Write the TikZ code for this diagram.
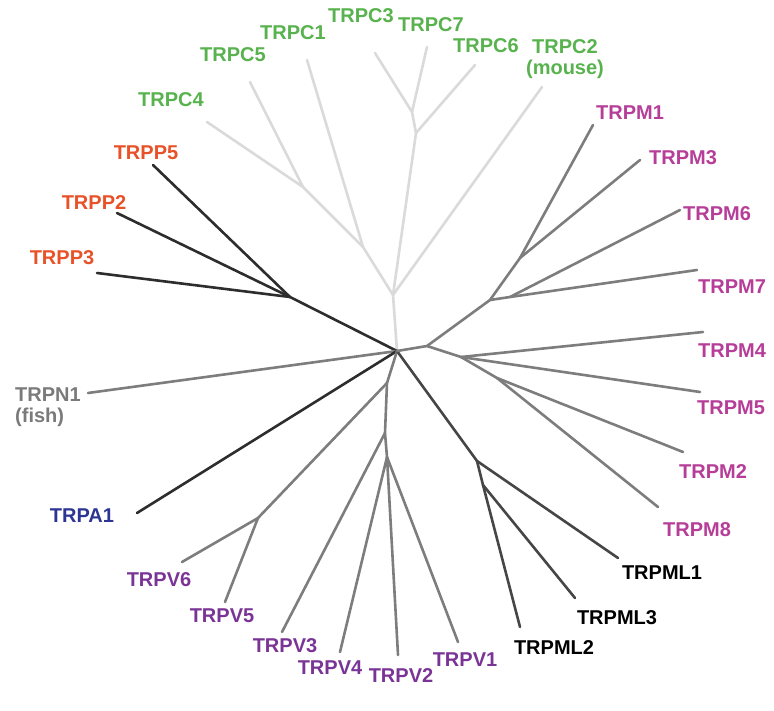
\documentclass[tikz,border=0pt]{standalone}
\usepackage{fontspec}
\setmainfont{Liberation Sans}
\definecolor{cgreen}{RGB}{88,178,78}
\definecolor{cred}{RGB}{232,82,40}
\definecolor{cmag}{RGB}{182,62,152}
\definecolor{cpurp}{RGB}{122,52,150}
\definecolor{cblue}{RGB}{44,54,146}
\definecolor{cgtxt}{RGB}{122,122,122}
\definecolor{llight}{RGB}{218,218,218}
\definecolor{lmed}{RGB}{125,125,125}
\definecolor{ldark}{RGB}{45,45,45}
\definecolor{lml}{RGB}{70,70,70}
\begin{document}
\begin{tikzpicture}[x=1pt,y=-1pt,
  br/.style={line width=2.6pt,line cap=round,line join=round},
  lab/.style={font=\fontsize{20}{21}\selectfont\bfseries,inner sep=0pt,align=center},
  pt/.style={coordinate}]
\useasboundingbox (0,0) rectangle (774,711);
% coordinates (pixel frame)
\coordinate (root) at (397,351);
% TRPC
\coordinate (eC4) at (207,122);
\coordinate (eC5) at (250,82);
\coordinate (eC1) at (307,60);
\coordinate (eC3) at (375,53);
\coordinate (eC7) at (427,47);
\coordinate (eC6) at (475,65);
\coordinate (eC2) at (542,87);
\coordinate (c45) at (303,187);
\coordinate (c145) at (363,247);
\coordinate (c37) at (412,112);
\coordinate (c367) at (416,133);
\coordinate (cR) at (393,295);
% TRPP
\coordinate (eP5) at (153,165);
\coordinate (eP2) at (117,213);
\coordinate (eP3) at (97,273);
\coordinate (pJ) at (290,297);
% TRPN1, TRPA1
\coordinate (eN1) at (88,393);
\coordinate (eA1) at (137,513);
% TRPV
\coordinate (v1) at (387,383);
\coordinate (v56) at (258,518);
\coordinate (eV6) at (182,562);
\coordinate (eV5) at (225,602);
\coordinate (v3) at (385,433);
\coordinate (v124) at (387,457);
\coordinate (eV3) at (282,632);
\coordinate (eV4) at (340,652);
\coordinate (eV2) at (398,655);
\coordinate (eV1) at (458,642);
% TRPML
\coordinate (m1) at (477,461);
\coordinate (m23) at (483,485);
\coordinate (eL1) at (618,558);
\coordinate (eL3) at (575,598);
\coordinate (eL2) at (520,627);
% TRPM
\coordinate (mA) at (427,346);
\coordinate (mD) at (490,300);
\coordinate (mF) at (520,258);
\coordinate (mG) at (510,297);
\coordinate (mB) at (461,357);
\coordinate (mC) at (497,378);
\coordinate (eM1) at (593,125);
\coordinate (eM3) at (640,160);
\coordinate (eM6) at (680,210);
\coordinate (eM7) at (697,270);
\coordinate (eM4) at (703,332);
\coordinate (eM5) at (700,392);
\coordinate (eM2) at (683,452);
\coordinate (eM8) at (658,507);

% branches
\draw[br,llight] (eC4) -- (c45) -- (c145) -- (cR) -- (root);
\draw[br,llight] (eC5) -- (c45);
\draw[br,llight] (eC1) -- (c145);
\draw[br,llight] (eC3) -- (c37) -- (c367) -- (cR);
\draw[br,llight] (eC7) -- (c37);
\draw[br,llight] (eC6) -- (c367);
\draw[br,llight] (eC2) -- (cR);

\draw[br,ldark] (eP5) -- (pJ) -- (root);
\draw[br,ldark] (eP2) -- (pJ);
\draw[br,ldark] (eP3) -- (pJ);

\draw[br,lmed] (eN1) -- (root);
\draw[br,ldark] (eA1) -- (root);

\draw[br,lmed] (root) -- (v1) -- (v3) -- (v124) -- (eV2);
\draw[br,lmed] (v1) -- (v56) -- (eV6);
\draw[br,lmed] (v56) -- (eV5);
\draw[br,lmed] (v3) -- (eV3);
\draw[br,lmed] (v124) -- (eV4);
\draw[br,lmed] (v124) -- (eV1);

\draw[br,lml] (root) -- (m1) -- (eL1);
\draw[br,lml] (m1) -- (m23) -- (eL3);
\draw[br,lml] (m23) -- (eL2);

\draw[br,lmed] (root) -- (mA) -- (mD) -- (mF) -- (eM1);
\draw[br,lmed] (mF) -- (eM3);
\draw[br,lmed] (mD) -- (mG) -- (eM7);
\draw[br,lmed] (mG) -- (eM6);
\draw[br,lmed] (mA) -- (mB) -- (eM4);
\draw[br,lmed] (mB) -- (eM5);
\draw[br,lmed] (mB) -- (mC) -- (eM2);
\draw[br,lmed] (mC) -- (eM8);

% labels
\node[lab,cgreen] (tC4) at (171,100) {TRPC4};
\node[lab,cgreen] (tC5) at (233,55) {TRPC5};
\node[lab,cgreen] (tC1) at (293,33) {TRPC1};
\node[lab,cgreen] (tC3) at (361,16) {TRPC3};
\node[lab,cgreen] (tC7) at (431,25) {TRPC7};
\node[lab,cgreen] (tC6) at (486,46) {TRPC6};
\node[lab,cgreen] (tC2) at (565,59) {TRPC2\\(mouse)};
\node[lab,cred] (tP5) at (146,153) {TRPP5};
\node[lab,cred] (tP2) at (94,203) {TRPP2};
\node[lab,cred] (tP3) at (62,258) {TRPP3};
\node[lab,cgtxt,align=left,anchor=west] (tN1) at (15,407) {TRPN1\\(fish)};
\node[lab,cblue] (tA1) at (82,516) {TRPA1};
\node[lab,cpurp] (tV6) at (159,580) {TRPV6};
\node[lab,cpurp] (tV5) at (222,616) {TRPV5};
\node[lab,cpurp] (tV3) at (285,646) {TRPV3};
\node[lab,cpurp] (tV4) at (330,668) {TRPV4};
\node[lab,cpurp] (tV2) at (401,676) {TRPV2};
\node[lab,cpurp] (tV1) at (465,660) {TRPV1};
\node[lab,black] (tL2) at (554,648) {TRPML2};
\node[lab,black] (tL3) at (617,618) {TRPML3};
\node[lab,black] (tL1) at (662,573) {TRPML1};
\node[lab,cmag] (tM8) at (697,530) {TRPM8};
\node[lab,cmag] (tM2) at (713,472) {TRPM2};
\node[lab,cmag] (tM5) at (731,408) {TRPM5};
\node[lab,cmag] (tM4) at (732,351) {TRPM4};
\node[lab,cmag] (tM7) at (732,287) {TRPM7};
\node[lab,cmag] (tM6) at (717,214) {TRPM6};
\node[lab,cmag] (tM3) at (683,158) {TRPM3};
\node[lab,cmag] (tM1) at (630,113) {TRPM1};
\end{tikzpicture}
\end{document}
